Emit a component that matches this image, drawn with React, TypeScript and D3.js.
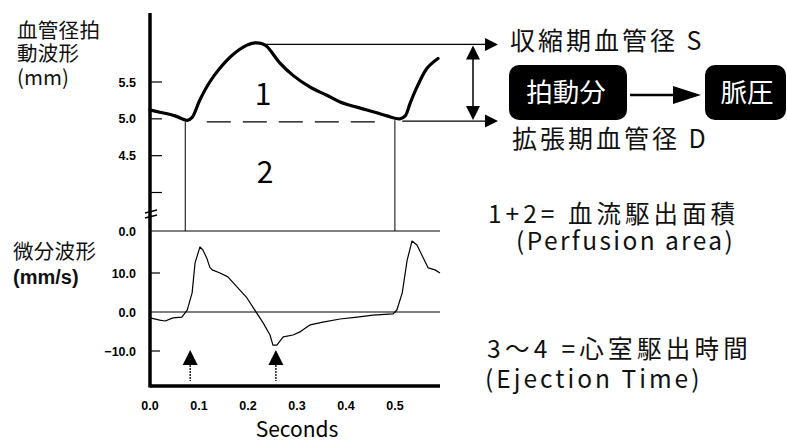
import React from "react";
import * as d3 from "d3";

// diameter waveform (mm) vs time (s)
const diamTime = [0.0, 0.02, 0.051, 0.076, 0.086, 0.102, 0.122, 0.143, 0.169, 0.198, 0.214, 0.229, 0.239, 0.265, 0.292, 0.327, 0.361, 0.388, 0.443, 0.484, 0.51, 0.521, 0.531, 0.545, 0.566, 0.588];
const diamValue = [5.12, 5.09, 5.04, 4.98, 5.02, 5.26, 5.5, 5.69, 5.87, 6.0, 6.03, 6.02, 5.98, 5.76, 5.59, 5.43, 5.32, 5.23, 5.12, 5.04, 5.0, 5.04, 5.21, 5.43, 5.69, 5.82];

// differential waveform (mm/s)
const derivTime = [0.0, 0.02, 0.031, 0.047, 0.065, 0.076, 0.086, 0.092, 0.102, 0.108, 0.116, 0.122, 0.127, 0.143, 0.159, 0.178, 0.198, 0.214, 0.231, 0.245, 0.251, 0.259, 0.272, 0.292, 0.306, 0.327, 0.353, 0.388, 0.423, 0.455, 0.496, 0.504, 0.515, 0.525, 0.535, 0.545, 0.557, 0.568, 0.582, 0.592];
const derivValue = [-1.5, -2.1, -2.3, -1.5, -1.3, 0.5, 4.9, 12.6, 16.7, 15.9, 13.8, 11.5, 10.8, 10.0, 9.0, 6.4, 3.6, 0.5, -2.8, -5.9, -8.5, -8.5, -6.4, -5.9, -5.1, -3.3, -2.6, -1.8, -1.3, -0.8, -0.5, 0.5, 4.9, 13.3, 18.2, 17.2, 14.1, 11.3, 10.8, 10.0];

const xTicks = [0, 0.1, 0.2, 0.3, 0.4, 0.5];
const diamTicks = [4.0, 4.5, 5.0, 5.5];
const diamTickLabels = ["", "4.5", "5.0", "5.5"];
const derivTicks = [10, 0, -10];

const systolic = 6.01;
const diastolic = 4.97;
const startT = 0.072;
const endT = 0.5;
const ejectStart = 0.082; // 3
const ejectEnd = 0.257; // 4

const CJK = "'Noto Sans CJK JP', 'Noto Sans', sans-serif";
const NUM = "'Liberation Sans', Arial, sans-serif";

export default function App() {
  const W = 787, H = 443;
  const left = 150, right = 440, top = 13, bottom = 386, split = 231;

  const x = d3.scaleLinear().domain([0, 0.59]).range([left, left + 0.59 * 489.8]);
  const yD = d3.scaleLinear().domain([4.0, 5.5]).range([192.5, 82]);
  const yV = d3.scaleLinear().domain([-10, 10]).range([351, 273]);

  const diamLine = d3.line<number>()
    .x((_, i) => x(diamTime[i]))
    .y((d) => yD(d))
    .curve(d3.curveCatmullRom.alpha(0.5));
  const derivLine = d3.line<number>()
    .x((_, i) => x(derivTime[i]))
    .y((d) => yV(d));

  const ySys = yD(systolic);
  const yDia = yD(diastolic);
  const tipX = 498;

  const arrowRight = (tx: number, ty: number, len = 13, half = 6.5) =>
    `M${tx},${ty} L${tx - len},${ty - half} L${tx - len},${ty + half} Z`;

  return (
    <svg width={W} height={H} style={{ position: "absolute", left: 0, top: 0, background: "#fff" }}>
      {/* left labels */}
      <g fontFamily={CJK} fontSize={20.5} fill="#111">
        <text x={17} y={38} letterSpacing={0.3}>血管径拍</text>
        <text x={17} y={61} letterSpacing={0.3}>動波形</text>
        <text x={17} y={85}>(mm)</text>
        <text x={13} y={259} letterSpacing={0.3}>微分波形</text>
        <text x={13} y={284} fontFamily={NUM} fontWeight="bold" fontSize={20}>(mm/s)</text>
      </g>

      {/* axes */}
      <line x1={left} x2={left} y1={top} y2={bottom + 1.5} stroke="#000" strokeWidth={3.5} />
      <line x1={left} x2={right} y1={bottom} y2={bottom} stroke="#000" strokeWidth={3.5} />
      <line x1={left} x2={right} y1={split} y2={split} stroke="#000" strokeWidth={1.2} />
      <line x1={left} x2={right} y1={yV(0)} y2={yV(0)} stroke="#000" strokeWidth={1.2} />

      {/* axis break */}
      <line x1={145} x2={157} y1={213} y2={210} stroke="#000" strokeWidth={1.3} />
      <line x1={145} x2={157} y1={218} y2={215} stroke="#000" strokeWidth={1.3} />

      {/* top ticks */}
      {diamTicks.map((t, i) => (
        <g key={t}>
          <line x1={left} x2={left + 12} y1={yD(t)} y2={yD(t)} stroke="#000" strokeWidth={1.2} />
          <text x={136} y={yD(t) + 4.5} textAnchor="end" fontFamily={NUM} fontWeight="bold" fontSize={12.5}>{diamTickLabels[i]}</text>
        </g>
      ))}
      <text x={136} y={split + 4.5} textAnchor="end" fontFamily={NUM} fontWeight="bold" fontSize={12.5}>0.0</text>

      {/* bottom ticks */}
      {derivTicks.map((t) => (
        <g key={t}>
          {t !== 0 && <line x1={left} x2={left + 10} y1={yV(t)} y2={yV(t)} stroke="#000" strokeWidth={1.2} />}
          <text x={136} y={yV(t) + 4.5} textAnchor="end" fontFamily={NUM} fontWeight="bold" fontSize={12.5}>{d3.format(".1f")(t)}</text>
        </g>
      ))}

      {/* x ticks */}
      {xTicks.map((t) => (
        <text key={t} x={x(t)} y={410} textAnchor="middle" fontFamily={NUM} fontWeight="bold" fontSize={12.5}>{d3.format(".1f")(t)}</text>
      ))}
      <text x={297} y={437} textAnchor="middle" fontFamily={CJK} fontSize={21}>Seconds</text>

      {/* area boundaries */}
      <line x1={x(startT)} x2={x(startT)} y1={yD(4.96)} y2={split} stroke="#000" strokeWidth={1} />
      <line x1={x(endT)} x2={x(endT)} y1={yD(4.98)} y2={split} stroke="#000" strokeWidth={1} />
      <line x1={x(0.116)} x2={x(0.47)} y1={yD(4.96)} y2={yD(4.96)} stroke="#000" strokeWidth={1.2} strokeDasharray="24 12" />

      {/* S / D lines */}
      <line x1={x(0.232)} x2={tipX - 10} y1={ySys} y2={ySys} stroke="#000" strokeWidth={1.2} />
      <path d={arrowRight(tipX, ySys)} fill="#000" />
      <line x1={x(0.515)} x2={tipX - 10} y1={yDia} y2={yDia} stroke="#000" strokeWidth={1.2} />
      <path d={arrowRight(tipX, yDia)} fill="#000" />
      <line x1={473} x2={473} y1={ySys + 8} y2={yDia - 8} stroke="#000" strokeWidth={1.5} />
      <path d={`M473,${ySys + 1} L466,${ySys + 15} L480,${ySys + 15} Z`} fill="#000" />
      <path d={`M473,${yDia - 1} L466,${yDia - 15} L480,${yDia - 15} Z`} fill="#000" />

      {/* curves */}
      <path d={diamLine(diamValue) || ""} fill="none" stroke="#000" strokeWidth={3.2} strokeLinejoin="round" strokeLinecap="round" />
      <path d={derivLine(derivValue) || ""} fill="none" stroke="#000" strokeWidth={1.2} strokeLinejoin="round" />

      {/* area labels */}
      <text x={263} y={105} textAnchor="middle" fontFamily={CJK} fontSize={30}>1</text>
      <text x={265} y={183} textAnchor="middle" fontFamily={CJK} fontSize={30}>2</text>

      {/* ejection arrows */}
      {[ejectStart, ejectEnd].map((t) => (
        <g key={t}>
          <line x1={x(t)} x2={x(t)} y1={362} y2={381} stroke="#000" strokeWidth={1.3} strokeDasharray="2 1" />
          <path d={`M${x(t)},350 L${x(t) - 7.5},365 L${x(t) + 7.5},365 Z`} fill="#000" />
        </g>
      ))}

      {/* right annotations */}
      <g fontFamily={CJK} fill="#111">
        <text x={510} y={50} fontSize={25} letterSpacing={3}>収縮期血管径 S</text>
        <text x={512} y={148} fontSize={25} letterSpacing={3}>拡張期血管径 D</text>

        <rect x={509} y={65} width={118} height={55} rx={10} fill="#000" />
        <text x={566} y={102} textAnchor="middle" fontSize={26.5} fill="#fff">拍動分</text>
        <line x1={630} x2={680} y1={95} y2={95} stroke="#000" strokeWidth={2.5} />
        <path d="M701,95 L673,86 L673,104 Z" fill="#000" />
        <rect x={705} y={65} width={81} height={55} rx={10} fill="#000" />
        <text x={747} y={102} textAnchor="middle" fontSize={26.5} fill="#fff">脈圧</text>

        <text x={488} y={223} fontSize={24.5} letterSpacing={4}>1+2= 血流駆出面積</text>
        <text x={516} y={250} fontSize={24.5} letterSpacing={2.4}>(Perfusion area)</text>
        <text x={487} y={358} fontSize={24.5} letterSpacing={4.3}>3〜4 =心室駆出時間</text>
        <text x={485} y={388} fontSize={24.5} letterSpacing={3}>(Ejection Time)</text>
      </g>
    </svg>
  );
}
